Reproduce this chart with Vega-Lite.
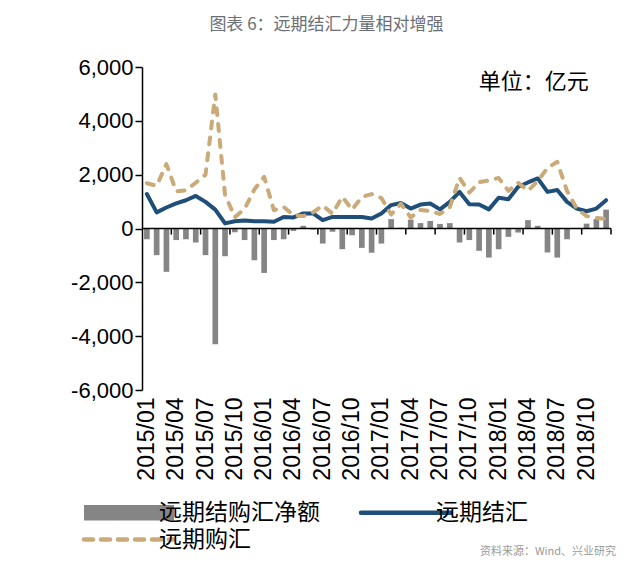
{
  "$schema": "https://vega.github.io/schema/vega-lite/v6.json",
  "width": 469,
  "height": 323,
  "autosize": {"type": "none"},
  "padding": {"left": 142, "top": 67, "right": 29, "bottom": 179},
  "background": "white",
  "title": {"text": "图表 6：远期结汇力量相对增强", "font": "Noto Sans CJK SC", "fontSize": 17, "fontWeight": "normal", "color": "#6b6f76", "anchor": "middle", "dx": -50, "offset": 22},
  "config": {"view": {"stroke": null}, "axis": {"domainColor": "#000", "tickColor": "#000", "labelColor": "#000", "grid": false}},
  "data": {"values": [
    {"m": "2015/01", "net": -400, "jh": 1280, "gh": 1680},
    {"m": "2015/02", "net": -990, "jh": 600, "gh": 1590},
    {"m": "2015/03", "net": -1610, "jh": 780, "gh": 2390},
    {"m": "2015/04", "net": -430, "jh": 930, "gh": 1380},
    {"m": "2015/05", "net": -400, "jh": 1050, "gh": 1420},
    {"m": "2015/06", "net": -520, "jh": 1210, "gh": 1700},
    {"m": "2015/07", "net": -990, "jh": 990, "gh": 2000},
    {"m": "2015/08", "net": -4300, "jh": 700, "gh": 4980},
    {"m": "2015/09", "net": -1030, "jh": 190, "gh": 1250},
    {"m": "2015/10", "net": -140, "jh": 270, "gh": 420},
    {"m": "2015/11", "net": -430, "jh": 300, "gh": 730},
    {"m": "2015/12", "net": -1180, "jh": 270, "gh": 1450},
    {"m": "2016/01", "net": -1650, "jh": 270, "gh": 1920},
    {"m": "2016/02", "net": -430, "jh": 250, "gh": 680},
    {"m": "2016/03", "net": -400, "jh": 430, "gh": 800},
    {"m": "2016/04", "net": -90, "jh": 410, "gh": 500},
    {"m": "2016/05", "net": 100, "jh": 560, "gh": 460},
    {"m": "2016/06", "net": -40, "jh": 560, "gh": 600},
    {"m": "2016/07", "net": -560, "jh": 310, "gh": 850},
    {"m": "2016/08", "net": -120, "jh": 430, "gh": 550},
    {"m": "2016/09", "net": -770, "jh": 430, "gh": 1180},
    {"m": "2016/10", "net": -250, "jh": 430, "gh": 700},
    {"m": "2016/11", "net": -720, "jh": 430, "gh": 1170},
    {"m": "2016/12", "net": -900, "jh": 370, "gh": 1280},
    {"m": "2017/01", "net": -560, "jh": 560, "gh": 1130},
    {"m": "2017/02", "net": 350, "jh": 870, "gh": 520},
    {"m": "2017/03", "net": 30, "jh": 950, "gh": 920},
    {"m": "2017/04", "net": 330, "jh": 740, "gh": 410},
    {"m": "2017/05", "net": 200, "jh": 890, "gh": 690},
    {"m": "2017/06", "net": 280, "jh": 930, "gh": 650},
    {"m": "2017/07", "net": 170, "jh": 710, "gh": 540},
    {"m": "2017/08", "net": 200, "jh": 990, "gh": 790},
    {"m": "2017/09", "net": -520, "jh": 1360, "gh": 1880},
    {"m": "2017/10", "net": -430, "jh": 900, "gh": 1330},
    {"m": "2017/11", "net": -830, "jh": 890, "gh": 1720},
    {"m": "2017/12", "net": -1080, "jh": 710, "gh": 1790},
    {"m": "2018/01", "net": -770, "jh": 1140, "gh": 1880},
    {"m": "2018/02", "net": -310, "jh": 1090, "gh": 1400},
    {"m": "2018/03", "net": -150, "jh": 1550, "gh": 1700},
    {"m": "2018/04", "net": 310, "jh": 1710, "gh": 1400},
    {"m": "2018/05", "net": 100, "jh": 1860, "gh": 1760},
    {"m": "2018/06", "net": -890, "jh": 1360, "gh": 2250},
    {"m": "2018/07", "net": -1080, "jh": 1430, "gh": 2480},
    {"m": "2018/08", "net": -400, "jh": 990, "gh": 1390},
    {"m": "2018/09", "net": 0, "jh": 740, "gh": 740},
    {"m": "2018/10", "net": 180, "jh": 640, "gh": 460},
    {"m": "2018/11", "net": 350, "jh": 740, "gh": 390},
    {"m": "2018/12", "net": 700, "jh": 1050, "gh": 350}
  ]},
  "layer": [
    {
      "mark": {"type": "bar", "color": "#858585"},
      "encoding": {
        "x": {"field": "m", "type": "ordinal", "sort": null,
          "scale": {"paddingInner": 0.42, "paddingOuter": 0.21},
          "axis": {"orient": "bottom", "title": null, "domain": false, "ticks": false,
            "values": ["2015/01","2015/04","2015/07","2015/10","2016/01","2016/04","2016/07","2016/10","2017/01","2017/04","2017/07","2017/10","2018/01","2018/04","2018/07","2018/10"],
            "labelAngle": -90, "labelFont": "Liberation Sans", "labelFontSize": 23, "labelPadding": 7, "bandPosition": 0.5}},
        "y": {"field": "net", "type": "quantitative", "scale": {"domain": [-6000, 6000]},
          "axis": {"title": null, "values": [-6000, -4000, -2000, 0, 2000, 4000, 6000],
            "labelExpr": "(datum.value < 0 ? '-' : '') + format(abs(datum.value), ',')",
            "labelFont": "Liberation Sans", "labelFontSize": 22, "labelPadding": 2, "tickSize": 7, "tickWidth": 1.5, "domainWidth": 1.5}},
        "color": {"datum": "远期结购汇净额",
          "scale": {"domain": ["远期结购汇净额", "远期购汇", "远期结汇"], "range": ["#858585", "#c9aa78", "#1f4e79"]},
          "legend": {"title": null, "orient": "none", "legendX": -24.5, "legendY": 434, "columns": 2,
            "columnPadding": 31, "rowPadding": 3, "labelOffset": 18.5, "padding": 0,
            "labelFont": "Noto Sans CJK SC", "labelFontSize": 23, "labelColor": "#000", "labelLimit": 400,
            "symbolSize": 8100, "symbolStrokeWidth": 4.5,
            "encode": {"symbols": {"update": {
              "shape": {"signal": "datum.value === '远期结购汇净额' ? 'M-1,-0.17H1V0.17H-1Z' : 'stroke'"},
              "size": {"value": 8100},
              "fill": {"signal": "datum.value === '远期结购汇净额' ? '#858585' : 'transparent'"},
              "stroke": {"signal": "datum.value === '远期结购汇净额' ? '#858585' : (datum.value === '远期结汇' ? '#1f4e79' : '#c9aa78')"},
              "strokeWidth": {"signal": "datum.value === '远期结购汇净额' ? 0 : 4.5"},
              "strokeDash": {"signal": "datum.value === '远期购汇' ? [9, 8] : [1, 0]"},
              "strokeCap": {"value": "round"},
              "opacity": {"value": 1}
            }}}}}
      }
    },
    {
      "data": {"values": [{}]},
      "mark": {"type": "rule", "color": "#000", "strokeWidth": 1.5},
      "encoding": {"y": {"datum": 0, "type": "quantitative"}}
    },
    {
      "transform": [{"filter": {"field": "m", "oneOf": ["2015/04","2015/07","2015/10","2016/01","2016/04","2016/07","2016/10","2017/01","2017/04","2017/07","2017/10","2018/01","2018/04","2018/07","2018/10"]}}],
      "mark": {"type": "rule", "color": "#000", "strokeWidth": 1.5, "xOffset": -4.885},
      "encoding": {
        "x": {"field": "m", "type": "ordinal", "sort": null},
        "y": {"datum": 0, "type": "quantitative"},
        "y2": {"datum": -225}
      }
    },
    {
      "data": {"values": [{}]},
      "mark": {"type": "rule", "color": "#000", "strokeWidth": 1.5, "xOffset": 4.885},
      "encoding": {
        "x": {"datum": "2018/12", "type": "ordinal"},
        "y": {"datum": 0, "type": "quantitative"},
        "y2": {"datum": -225}
      }
    },
    {
      "mark": {"type": "line", "strokeWidth": 4, "strokeCap": "round", "strokeJoin": "round"},
      "encoding": {
        "x": {"field": "m", "type": "ordinal", "sort": null},
        "y": {"field": "jh", "type": "quantitative"},
        "color": {"datum": "远期结汇"}
      }
    },
    {
      "mark": {"type": "line", "strokeWidth": 4, "strokeDash": [7, 9], "strokeCap": "round", "strokeJoin": "round"},
      "encoding": {
        "x": {"field": "m", "type": "ordinal", "sort": null},
        "y": {"field": "gh", "type": "quantitative"},
        "color": {"datum": "远期购汇"}
      }
    },
    {
      "data": {"values": [{}]},
      "mark": {"type": "text", "text": "单位：亿元", "font": "Noto Sans CJK SC", "fontSize": 22, "color": "#000", "align": "center", "baseline": "middle", "dx": -4},
      "encoding": {
        "x": {"datum": "2018/05", "type": "ordinal"},
        "y": {"datum": 5440, "type": "quantitative"}
      }
    },
    {
      "data": {"values": [{}]},
      "mark": {"type": "text", "text": "资料来源：Wind、兴业研究", "font": "Noto Sans CJK SC", "fontSize": 11, "color": "#9a9a9a", "align": "right", "baseline": "middle", "dx": 10},
      "encoding": {
        "x": {"datum": "2018/12", "type": "ordinal"},
        "y": {"datum": -12030, "type": "quantitative"}
      }
    }
  ]
}
